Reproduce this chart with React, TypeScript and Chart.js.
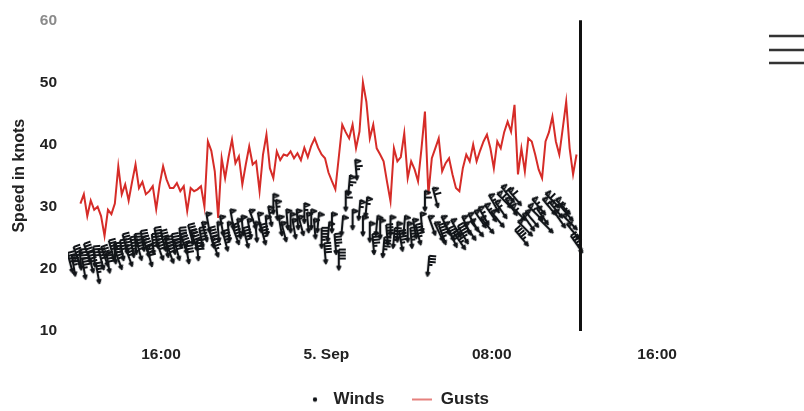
import React, { useEffect, useRef } from 'react';
import { Chart, registerables } from 'chart.js';

Chart.register(...registerables);

// ---- data (hours since 4 Sep 00:00, 10-minute readings) ----
const START_HOUR = 11.6;
const STEP_HOURS = 1 / 6;
const NOW_HOUR = 36.25;
const X_MIN = 11.5;
const X_MAX = 46.62;
const xTickHours = [16, 24, 32, 40];
const xTickLabels = ['16:00', '5. Sep', '08:00', '16:00'];
const Y_MIN = 10;
const Y_MAX = 60;
const Y_STEP = 10;

const gusts: (number | null)[] = [
  null, null, null,
  30.5, 32, 28.5, 31, 29.5, 30, 28.5,
  25.3, 29.5, 28.8, 30.5, 36.5, 32, 33.6, 31, 34, 36.8,
  33, 34, 32, 32.5, 33.3, 29.6, 33.6, 36.5, 34.4, 33,
  33, 33.8, 32.5, 33.3, 29.3, 33, 32.5, 32.8, 33.3, 30,
  40.5, 39, 35.7, 28.2, 37.8, 34.6, 38, 40.8, 37, 38.1,
  33.6, 36.8, 39.7, 36.8, 37.3, 32.5, 38.4, 41.6, 36.2, 34.6,
  38.9, 37.5, 38.4, 38.2, 38.9, 37.8, 38.6, 37.5, 39.5, 38,
  39.8, 41, 39.5, 38.4, 37.8, 35.5, 34.1, 32.8, 38, 43.2,
  42, 41, 43.2, 39.4, 42.1, 50, 46.9, 41, 43.2, 39.4,
  38.4, 37.3, 34, 30.9, 39.4, 37.3, 38, 41.8, 34.6, 37.3,
  36, 34.1, 39.4, 45.3, 32, 37.8, 39.4, 41, 35.7, 37,
  37.8, 35.2, 33, 32.5, 36.2, 38.4, 37.3, 40, 37.3, 39,
  40.5, 41.6, 39.4, 36.2, 40.5, 39.4, 42, 43.7, 42.1, 46.4,
  35.2, 39.4, 35.7, 41, 40.5, 38.4, 36, 34.6, 40.5, 42,
  44.5, 40.5, 38.4, 42.6, 46.9, 39.4, 35.2, 38.4,
];

const winds: number[] = [
  21, 20.5, 22, 21.5, 20, 22.5, 21, 22, 19.3, 21.5,
  22, 21, 23, 22.5, 21.5, 23, 24, 22, 23.5, 24,
  23, 24.5, 23.5, 22, 24, 25, 23, 24.5, 23.5, 22.5,
  24, 23, 25, 24, 22.5, 25.5, 24.5, 23, 25, 26,
  27.5, 25, 23.5, 26, 27, 24.5, 26, 28, 25.5, 26.5,
  27, 25, 26.5, 28, 26, 27.5, 25.5, 27, 28.5, 30.5,
  29.5, 27, 26, 28, 27.5, 26.5, 28, 27, 29, 27.5,
  28, 26.5, 27.5, 25, 22.5, 26, 27.5, 24, 21.5, 27,
  31, 33.5, 28, 36, 29.5, 27, 30, 26, 24, 27,
  26.5, 23.5, 25.5, 27, 25, 26, 24.5, 27, 26, 25,
  26.5, 25.5, 27.5, 31, 20.5, 27, 31.5, 26, 25.5, 27,
  26, 25, 26.5, 24.5, 25.5, 27, 26, 27.5, 26.5, 28,
  28.5, 27, 29, 30.5, 28, 29.5, 31, 32, 30, 31.5,
  29, 25, 26.5, 27.5, 28, 29, 30, 28.5, 27, 30,
  31, 29.5, 28, 30, 29, 27.5, 26, 24,
];

const windDirections: number[] = [
  345, 350, 340, 355, 350, 340, 345, 355, 350, 345,
  340, 350, 345, 355, 340, 350, 345, 340, 350, 355,
  345, 350, 340, 345, 355, 350, 340, 345, 350, 340,
  350, 345, 355, 340, 350, 345, 340, 355, 350, 345,
  350, 345, 340, 355, 350, 345, 355, 350, 340, 350,
  355, 345, 350, 340, 355, 350, 345, 355, 350, 0,
  355, 350, 345, 355, 0, 350, 355, 345, 0, 355,
  0, 355, 5, 0, 355, 5, 0, 355, 0, 5,
  0, 5, 0, 355, 5, 0, 5, 0, 355, 5,
  0, 5, 355, 0, 5, 0, 350, 5, 0, 355,
  350, 345, 355, 0, 5, 340, 345, 335, 340, 335,
  330, 335, 330, 325, 330, 335, 325, 330, 320, 325,
  330, 320, 325, 330, 320, 325, 315, 320, 325, 320,
  315, 320, 315, 325, 320, 315, 320, 325, 315, 320,
  315, 320, 325, 315, 320, 315, 320, 325,
];

const WIND_COLOR = '#111418';
const GUST_COLOR = '#d62c28';
const TEXT_COLOR = '#222222';
const FONT = '"Liberation Sans", Arial, Helvetica, sans-serif';

export default function App() {
  const ref = useRef<HTMLCanvasElement>(null);

  useEffect(() => {
    const canvas = ref.current;
    if (!canvas) return;

    const barbCache = new Map<string, HTMLCanvasElement>();
    const getBarb = (speed: number): HTMLCanvasElement => {
      let knots = speed * 1.943844;
      const pennants = Math.floor(knots / 50);
      knots -= pennants * 50;
      const full = Math.floor(knots / 10);
      knots -= full * 10;
      const half = Math.floor(knots / 5);
      const key = `${pennants}-${full}-${half}`;
      const cached = barbCache.get(key);
      if (cached) return cached;
      const size = 26;
      const c = document.createElement('canvas');
      c.width = size;
      c.height = size;
      const g = c.getContext('2d')!;
      g.translate(size / 2, size / 2);
      g.strokeStyle = WIND_COLOR;
      g.lineWidth = 2.2;
      g.lineJoin = 'round';
      g.beginPath();
      g.moveTo(0, 7);
      g.lineTo(-1.5, 7);
      g.lineTo(0, 10);
      g.lineTo(1.5, 7);
      g.lineTo(0, 7);
      g.lineTo(0, -10);
      let pos = -10;
      for (let i = 0; i < pennants; i++) {
        g.moveTo(0, pos);
        g.lineTo(5, pos + 2);
        g.lineTo(0, pos + 4);
        pos += 7;
      }
      for (let i = 0; i < full; i++) {
        g.moveTo(0, pos);
        g.lineTo(7, pos);
        pos += 3;
      }
      for (let i = 0; i < half; i++) {
        g.moveTo(0, pos);
        g.lineTo(4, pos);
        pos += 3;
      }
      g.stroke();
      barbCache.set(key, c);
      return c;
    };

    const dot = document.createElement('canvas');
    dot.width = 6;
    dot.height = 6;
    {
      const g = dot.getContext('2d')!;
      g.fillStyle = WIND_COLOR;
      g.beginPath();
      g.arc(3, 3, 2.2, 0, Math.PI * 2);
      g.fill();
    }
    const lineImg = document.createElement('canvas');
    lineImg.width = 20;
    lineImg.height = 4;
    {
      const g = lineImg.getContext('2d')!;
      g.strokeStyle = GUST_COLOR;
      g.globalAlpha = 0.75;
      g.lineWidth = 1.6;
      g.beginPath();
      g.moveTo(0, 2);
      g.lineTo(20, 2);
      g.stroke();
    }

    const windPoints = winds.map((v, i) => ({ x: START_HOUR + i * STEP_HOURS, y: v }));
    const gustPoints = gusts
      .map((v, i) => ({ x: START_HOUR + i * STEP_HOURS, y: v }))
      .filter((p) => p.y !== null) as { x: number; y: number }[];

    const plotLine = {
      id: 'plotLine',
      afterDatasetsDraw(chart: any) {
        const { ctx, chartArea, scales } = chart;
        const x = Math.round(scales.x.getPixelForValue(NOW_HOUR)) + 0.5;
        ctx.save();
        ctx.strokeStyle = '#111111';
        ctx.lineWidth = 3;
        ctx.beginPath();
        ctx.moveTo(x, chartArea.top);
        ctx.lineTo(x, chartArea.bottom);
        ctx.stroke();
        ctx.restore();
      },
    };

    const menuButton = {
      id: 'menuButton',
      afterDraw(chart: any) {
        const { ctx } = chart;
        ctx.save();
        ctx.strokeStyle = '#333333';
        ctx.lineWidth = 2.5;
        [36, 50, 63].forEach((y) => {
          ctx.beginPath();
          ctx.moveTo(769, y);
          ctx.lineTo(804, y);
          ctx.stroke();
        });
        ctx.restore();
      },
    };

    const chart = new Chart(canvas, {
      type: 'line',
      data: {
        datasets: [
          {
            label: 'Winds',
            data: windPoints,
            showLine: false,
            pointStyle: (c: any) => getBarb(winds[c.dataIndex] ?? 0),
            rotation: (c: any) => windDirections[c.dataIndex] ?? 0,
            pointRadius: 4,
            pointHoverRadius: 4,
            borderColor: WIND_COLOR,
            backgroundColor: WIND_COLOR,
          } as any,
          {
            label: 'Gusts',
            data: gustPoints,
            borderColor: GUST_COLOR,
            backgroundColor: GUST_COLOR,
            borderWidth: 2,
            pointRadius: 0,
            tension: 0,
          },
        ],
      },
      options: {
        responsive: false,
        devicePixelRatio: 1,
        animation: false,
        layout: { padding: { top: 18, right: 10, left: 0, bottom: 0 } },
        plugins: {
          tooltip: { enabled: false },
          legend: {
            position: 'bottom',
            maxHeight: 48,
            labels: {
              usePointStyle: true,
              pointStyleWidth: 20,
              boxWidth: 20,
              padding: 28,
              color: TEXT_COLOR,
              font: { family: FONT, size: 17, weight: 'bold' },
              generateLabels: () => [
                {
                  text: 'Winds',
                  pointStyle: dot,
                  datasetIndex: 0,
                  fillStyle: WIND_COLOR,
                  strokeStyle: WIND_COLOR,
                  lineWidth: 0,
                  hidden: false,
                  fontColor: TEXT_COLOR,
                } as any,
                {
                  text: 'Gusts',
                  pointStyle: lineImg,
                  datasetIndex: 1,
                  fillStyle: GUST_COLOR,
                  strokeStyle: GUST_COLOR,
                  lineWidth: 0,
                  hidden: false,
                  fontColor: TEXT_COLOR,
                } as any,
              ],
            },
          },
        },
        scales: {
          x: {
            type: 'linear',
            min: X_MIN,
            max: X_MAX,
            grid: { display: false, drawTicks: false },
            border: { display: false },
            afterBuildTicks: (scale: any) => {
              scale.ticks = xTickHours.map((v) => ({ value: v }));
            },
            afterFit: (scale: any) => {
              scale.height = 32;
            },
            ticks: {
              autoSkip: false,
              maxRotation: 0,
              padding: 14,
              color: TEXT_COLOR,
              font: { family: FONT, size: 15.5, weight: 'bold' },
              callback: (v: any) => {
                const i = xTickHours.indexOf(Number(v));
                return i >= 0 ? xTickLabels[i] : '';
              },
            },
          },
          y: {
            min: Y_MIN,
            max: Y_MAX,
            grid: { display: false, drawTicks: false },
            border: { display: false },
            afterFit: (scale: any) => {
              scale.width = 68;
            },
            ticks: {
              stepSize: Y_STEP,
              padding: 11,
              color: (c: any) => (c.tick && c.tick.value === Y_MAX ? '#8a8a8a' : TEXT_COLOR),
              font: { family: FONT, size: 15.5, weight: 'bold' },
            },
            title: {
              display: true,
              text: 'Speed in knots',
              color: TEXT_COLOR,
              padding: { top: 10, bottom: 0 },
              font: { family: FONT, size: 16, weight: 'bold' },
            },
          },
        },
      } as any,
      plugins: [plotLine, menuButton],
    });

    return () => chart.destroy();
  }, []);

  return (
    <div style={{ position: 'absolute', left: 0, top: 0, width: 804, height: 411, background: '#ffffff' }}>
      <canvas ref={ref} width={804} height={411} style={{ display: 'block', width: '804px', height: '411px' }} />
    </div>
  );
}
